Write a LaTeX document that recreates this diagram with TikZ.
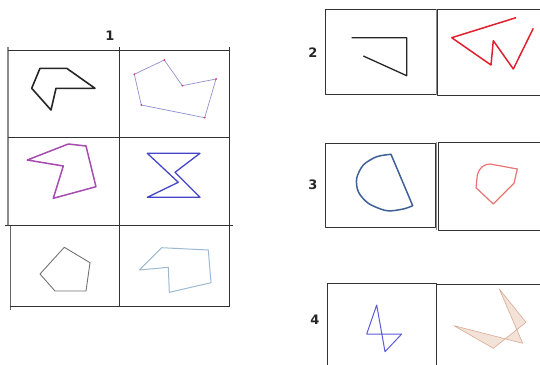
\documentclass[tikz,border=0pt]{standalone}
\usepackage{fontspec}
\setsansfont{DejaVu Sans}
\definecolor{lineLav}{HTML}{9090D0}
\definecolor{dotRed}{HTML}{D04070}
\definecolor{lineMag}{HTML}{A64CAE}
\definecolor{lineBlue}{HTML}{4646C8}
\definecolor{lineIce}{HTML}{9DBAD2}
\definecolor{lineRed}{HTML}{E0202E}
\definecolor{lineSteel}{HTML}{3F6096}
\definecolor{linePink}{HTML}{E87474}
\definecolor{lineBlue2}{HTML}{5C5CD6}
\definecolor{fillTan}{HTML}{F3E2D8}
\definecolor{lineTan}{HTML}{D9AA92}

\begin{document}
\begin{tikzpicture}[x=1pt, y=-1pt, line join=round,
    frame/.style={draw=black!80, line width=0.9pt},
    num/.style={font=\sffamily\bfseries\fontsize{13}{15}\selectfont, text=black!85}]
    \useasboundingbox (0,0) rectangle (540,364);
    \clip (0,0) rectangle (540,364);

    % 左侧 3x2 表格：网格线
    \draw[black!45, line width=1.5pt] (8,47) -- (8,225);
    \draw[black!60, line width=0.8pt] (10,225) -- (10,310);
    \draw[frame] (8,50) -- (229,50);
    \draw[frame] (8,137) -- (229,137);
    \draw[frame] (5,225) -- (233,225);
    \draw[frame] (10,306) -- (230,306);
    \draw[frame] (119,47) -- (119,306);
    \draw[frame] (229,47) -- (229,307);
    \node[num] (n1) at (110,36) {1};

    % 第一行：黑色粗折多边形，淡紫色多边形（顶点带红点）
    \draw[black!85, line width=1.6pt] (40,68.3) -- (66.7,68.3) -- (95,88.3) -- (56,88.3) -- (51,110) -- (31.7,88.3) -- cycle;
    \draw[lineLav, line width=0.7pt] (134.3,74.3) -- (164.3,60) -- (182.3,85.7) -- (216,79) -- (204.7,117.7) -- (141.3,105) -- cycle;
    \foreach \p in {(134.3,74.3), (164.3,60), (182.3,85.7), (216,79), (204.7,117.7), (141.3,105)}
        \fill[dotRed] \p circle (1pt);

    % 第二行：洋红色多边形，蓝色沙漏形
    \draw[lineMag, line width=1.5pt] (27.3,160) -- (68.3,144) -- (86,146) -- (96,186.7) -- (53.3,198.3) -- (63.3,166) -- cycle;
    \draw[lineBlue, line width=1.3pt] (147.3,153.3) -- (200,153.3) -- (175,172.3) -- (200,197.3) -- (147.3,197.3) -- (178.3,182.3) -- cycle;

    % 第三行：灰色五边形，浅蓝色多边形
    \draw[black!55, line width=0.9pt] (64.3,247.3) -- (90,262.7) -- (86,291) -- (55,291) -- (40,274) -- cycle;
    \draw[lineIce, line width=1pt] (161.7,247.7) -- (208.3,250) -- (211,282.7) -- (169.3,292.3) -- (168.3,267.3) -- (139.3,270) -- cycle;

    % 右侧第 2 组
    \node[num] (n2) at (313,53) {2};
    \draw[frame] (325.7,9) rectangle (436,94.3);
    \draw[black!45, line width=0.9pt] (436.8,9) -- (436.8,95);
    \draw[frame] (437.7,9.3) rectangle (545,95.7);
    \draw[black!85, line width=1.3pt] (351.7,37.7) -- (406.7,37.7) -- (406.7,75.7) -- (363.3,56);
    \draw[lineRed, line width=1.5pt] (516,17.7) -- (451.7,37.7) -- (491,65) -- (493.3,40.7) -- (513.3,69) -- (533.3,28.3);

    % 右侧第 3 组
    \node[num] (n3) at (313,185) {3};
    \draw[frame] (325.7,143.3) rectangle (435,227.3);
    \draw[black!45, line width=0.9pt] (436.5,142.3) -- (436.5,230);
    \draw[frame] (438,142.3) rectangle (545,230);
    \draw[lineSteel, line width=1.5pt] plot[smooth] coordinates {(391,154.3) (376.7,156.7) (363.3,165) (356.7,178.3) (358.3,191.7) (368.3,203.3) (386.7,210.7) (403.3,209) (412.7,205.7)} -- cycle;
    \draw[linePink, line width=1.2pt] (493.3,204) -- (476,187.7) -- (477.3,175) .. controls (479,168) and (484,164) .. (490,164) -- (517.3,169) -- (514,183.3) -- cycle;

    % 右侧第 4 组
    \node[num] (n4) at (315,320) {4};
    \draw[frame] (327.3,368) -- (327.3,283.3) -- (436.7,283.3) -- (436.7,368);
    \draw[frame] (436.7,284.3) -- (545,284.3);
    \draw[lineBlue2, line width=1pt] (376.7,305) -- (366.7,334) -- (401.7,334) -- (385,351.7) -- cycle;
    \draw[fill=fillTan, draw=lineTan, line width=0.6pt] (454,325.7) -- (522.7,343.3) -- (499.3,289) -- (526,322.3) -- (493.3,348.3) -- cycle;
\end{tikzpicture}
\end{document}
